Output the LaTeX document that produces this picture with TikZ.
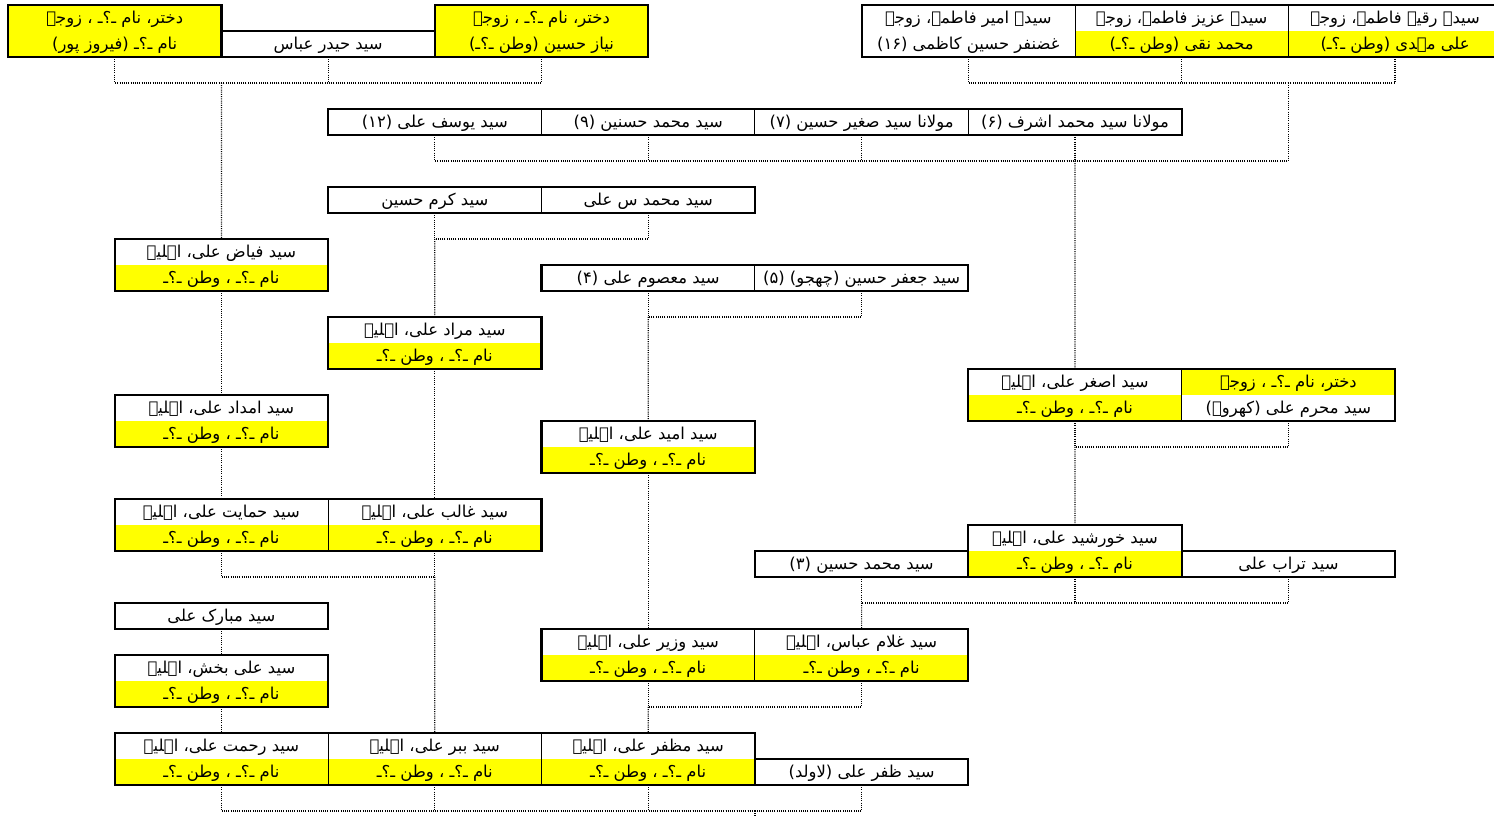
\documentclass[tikz,border=0pt]{standalone}
\usepackage{fontspec}
\newfontfamily\arabicfont[Script=Arabic]{DejaVu Sans}
\TeXXeTstate=1
\usepackage{xcolor}
\definecolor{cellyellow}{HTML}{FFFF00}
\usepackage{tikz}
\usetikzlibrary{positioning,calc}
\tikzset{
  cell/.style   ={draw=black,line width=0.5pt,fill=white,anchor=north west,
                  minimum width=106.7pt,inner sep=0pt,outer sep=0pt,
                  align=center,font=\arabicfont\fontsize{8.2}{13}\selectfont},
  one/.style    ={cell,minimum height=13pt},
  two/.style    ={cell,minimum height=26pt},
  ally/.style   ={fill=cellyellow},
  lowy/.style   ={path picture={\fill[cellyellow] (path picture bounding box.west)
                  rectangle (path picture bounding box.south east);}},
  topy/.style   ={path picture={\fill[cellyellow] (path picture bounding box.north west)
                  rectangle (path picture bounding box.east);}},
  rim/.style    ={draw=black,line width=1.1pt},
  link/.style   ={draw=black,line width=0.6pt,dash pattern=on 0.5pt off 0.6pt},
}
\newcommand{\ur}[1]{\beginR\rule[-3.8pt]{0pt}{13pt}#1\endR}
\newcommand{\unk}{\ur{نام ـ؟ـ ، وطن ـ؟ـ}}

\begin{document}
\begin{tikzpicture}[x=53.35pt,y=-13pt]
\useasboundingbox (-0.075,-0.19) rectangle (13.927,31.23);
\clip (-0.075,-0.19) rectangle (13.927,31.23);
%======================= TOP: daughters and sisters ==============
\node[two,ally] (dA1) at (0,0) {\ur{دختر، نام ـ؟ـ ، زوجہ}\\\ur{نام ـ؟ـ (فیروز پور)}};
\node[one] (hAbbas) at (2,1) {\ur{سید حیدر عباس}};
\node[two,ally] (dA2) at (4,0) {\ur{دختر، نام ـ؟ـ ، زوجہ}\\\ur{نیاز حسین (وطن ـ؟ـ)}};
\node[two] (ameer) at (8,0) {\ur{سیدہ امیر فاطمہ، زوجہ}\\\ur{غضنفر حسین کاظمی (۱۶)}};
\node[two,lowy] (aziz) at (10,0) {\ur{سیدہ عزیز فاطمہ، زوجہ}\\\ur{محمد نقی (وطن ـ؟ـ)}};
\node[two,lowy] (ruqayya) at (12,0) {\ur{سیدہ رقیہ فاطمہ، زوجہ}\\\ur{علی مہدی (وطن ـ؟ـ)}};
%======================= sons of Asghar Ali ======================
\node[one] (yusuf) at (3,4) {\ur{سید یوسف علی (۱۲)}};
\node[one] (hasnain) at (5,4) {\ur{سید محمد حسنین (۹)}};
\node[one] (sagheer) at (7,4) {\ur{مولانا سید صغیر حسین (۷)}};
\node[one] (ashraf) at (9,4) {\ur{مولانا سید محمد اشرف (۶)}};
\node[one] (karam) at (3,7) {\ur{سید کرم حسین}};
\node[one] (msali) at (5,7) {\ur{سید محمد س علی}};
\node[two,lowy] (fayyaz) at (1,9) {\ur{سید فیاض علی، اہلیہ}\\\unk};
\node[one] (masoom) at (5,10) {\ur{سید معصوم علی (۴)}};
\node[one] (jafar) at (7,10) {\ur{سید جعفر حسین (چھجو) (۵)}};
\node[two,lowy] (murad) at (3,12) {\ur{سید مراد علی، اہلیہ}\\\unk};
\node[two,lowy] (asghar) at (9,14) {\ur{سید اصغر علی، اہلیہ}\\\unk};
\node[two,topy] (muharram) at (11,14) {\ur{دختر، نام ـ؟ـ ، زوجہ}\\\ur{سید محرم علی (کھروہ)}};
\node[two,lowy] (imdad) at (1,15) {\ur{سید امداد علی، اہلیہ}\\\unk};
\node[two,lowy] (umeed) at (5,16) {\ur{سید امید علی، اہلیہ}\\\unk};
%======================= middle generations ======================
\node[two,lowy] (himayat) at (1,19) {\ur{سید حمایت علی، اہلیہ}\\\unk};
\node[two,lowy] (ghalib) at (3,19) {\ur{سید غالب علی، اہلیہ}\\\unk};
\node[two,lowy] (khurshid) at (9,20) {\ur{سید خورشید علی، اہلیہ}\\\unk};
\node[one] (mhussain) at (7,21) {\ur{سید محمد حسین (۳)}};
\node[one] (turab) at (11,21) {\ur{سید تراب علی}};
\node[one] (mubarak) at (1,23) {\ur{سید مبارک علی}};
\node[two,lowy] (wazir) at (5,24) {\ur{سید وزیر علی، اہلیہ}\\\unk};
\node[two,lowy] (ghulam) at (7,24) {\ur{سید غلام عباس، اہلیہ}\\\unk};
\node[two,lowy] (bakhsh) at (1,25) {\ur{سید علی بخش، اہلیہ}\\\unk};
%======================= bottom row ==============================
\node[two,lowy] (rehmat) at (1,28) {\ur{سید رحمت علی، اہلیہ}\\\unk};
\node[two,lowy] (babar) at (3,28) {\ur{سید ببر علی، اہلیہ}\\\unk};
\node[two,lowy] (muzaffar) at (5,28) {\ur{سید مظفر علی، اہلیہ}\\\unk};
\node[one] (zafar) at (7,29) {\ur{سید ظفر علی (لاولد)}};
%======================= heavy rims round each block =============
\foreach \a/\b in {dA1/dA1,hAbbas/hAbbas,dA2/dA2,ameer/ruqayya,yusuf/ashraf,
  karam/msali,fayyaz/fayyaz,masoom/jafar,murad/murad,asghar/muharram,
  imdad/imdad,umeed/umeed,himayat/ghalib,khurshid/khurshid,mhussain/mhussain,
  turab/turab,mubarak/mubarak,wazir/ghulam,bakhsh/bakhsh,rehmat/muzaffar,zafar/zafar}
  \draw[rim] (\a.north west) rectangle (\b.south east);
%======================= dotted links ============================
\coordinate (jA) at (2,3);
\coordinate (jB) at (12,3);
\coordinate (j2) at (10,6);
\coordinate (j3) at (4,9);
\coordinate (j4) at (6,12);
\coordinate (j5) at (4,22);
\coordinate (j6) at (10,17);
\coordinate (j7) at (8,23);
\coordinate (j8) at (6,27);
\coordinate (j9) at (7,31);
\coordinate (root) at (7,32);
\foreach \c/\j in {dA1/jA,hAbbas/jA,dA2/jA,ameer/jB,aziz/jB,ruqayya/jB,
  yusuf/j2,hasnain/j2,sagheer/j2,ashraf/j2,karam/j3,msali/j3,masoom/j4,jafar/j4,
  himayat/j5,ghalib/j5,asghar/j6,muharram/j6,mhussain/j7,khurshid/j7,turab/j7,
  wazir/j8,ghulam/j8,rehmat/j9,babar/j9,muzaffar/j9,zafar/j9}
  \draw[link] (\c.south) |- (\j);
\draw[link] (jB) |- (j2);
\foreach \j/\p in {jA/fayyaz,j2/asghar,j3/murad,j4/umeed,j5/babar,j6/khurshid,
  j7/ghulam,j8/muzaffar}
  \draw[link] (\j) -- (\p.north);
\foreach \a/\b in {fayyaz/imdad,imdad/himayat,murad/ghalib,umeed/wazir,
  mubarak/bakhsh,bakhsh/rehmat}
  \draw[link] (\a.south) -- (\b.north);
\draw[link] (j9) -- (root);
\end{tikzpicture}
\end{document}
